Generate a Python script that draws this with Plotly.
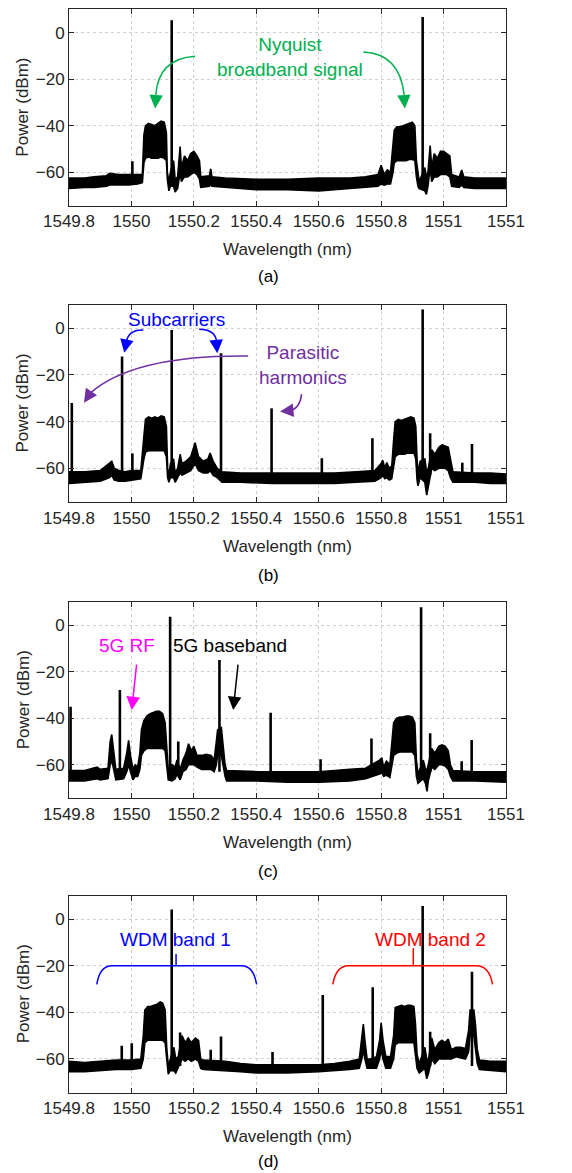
import plotly.graph_objects as go

# ---------------- data ----------------
TICK_VALS = [1549.8, 1550.0, 1550.2, 1550.4, 1550.6, 1550.8, 1551.0, 1551.2]
TICK_TEXT = ["1549.8", "1550", "1550.2", "1550.4", "1550.6", "1550.8", "1551", "1551"]
Y_TICKS = [-60, -40, -20, 0]
X_RANGE = [1549.8, 1551.2]
Y_RANGE = [-74.5, 10]
SPIKE_BASE = -63

# spectrum envelopes: (wavelength nm, upper dBm, lower dBm)
A_ENVELOPE = [
    (1549.800, -62.5, -67), (1549.850, -62.5, -66.5), (1549.880, -62, -66.5),
    (1549.920, -61.5, -66), (1549.930, -60.5, -65.5), (1549.960, -61, -65.5),
    (1549.990, -61, -65.5), (1550.020, -61, -65), (1550.035, -61, -64.5),
    (1550.040, -44, -56), (1550.045, -40, -54), (1550.055, -39, -53.5),
    (1550.065, -39.5, -54), (1550.075, -40, -54), (1550.085, -39, -54),
    (1550.095, -38, -53.5), (1550.105, -38.5, -54), (1550.112, -43, -55),
    (1550.115, -60, -63), (1550.120, -64, -68), (1550.125, -60, -66),
    (1550.135, -55, -66), (1550.140, -63, -68.5), (1550.148, -62, -67),
    (1550.156, -49, -60), (1550.160, -58, -64), (1550.170, -53, -62),
    (1550.180, -55, -62), (1550.190, -52, -61), (1550.200, -51, -60),
    (1550.210, -53, -61), (1550.218, -55, -63), (1550.222, -62, -66.5),
    (1550.250, -61.5, -66), (1550.254, -58.5, -65), (1550.258, -62, -66),
    (1550.300, -62.5, -66.5), (1550.400, -63, -67.5), (1550.500, -63, -67.5),
    (1550.600, -62.5, -68), (1550.700, -62.5, -67), (1550.750, -62, -66.5),
    (1550.790, -61, -66), (1550.800, -57, -65), (1550.810, -61, -65.5),
    (1550.820, -59, -65), (1550.830, -60, -65), (1550.838, -50, -60),
    (1550.842, -42, -56), (1550.850, -40.5, -55), (1550.860, -40.5, -55),
    (1550.870, -40, -55), (1550.880, -39.5, -55), (1550.890, -39, -54.5),
    (1550.900, -38.5, -54.5), (1550.908, -40, -55), (1550.913, -55, -62),
    (1550.918, -60, -66), (1550.922, -64, -67), (1550.940, -58, -68),
    (1550.945, -62, -69.5), (1550.950, -60, -66), (1550.957, -48.5, -58),
    (1550.962, -58, -64), (1550.970, -52, -62), (1550.980, -54, -62),
    (1550.990, -51, -61), (1551.000, -51, -61), (1551.010, -52, -61),
    (1551.020, -53, -62), (1551.026, -61, -66), (1551.050, -62, -66.5),
    (1551.058, -59, -65.5), (1551.065, -62, -66.5), (1551.100, -62.5, -67),
    (1551.150, -62.5, -67), (1551.200, -62.5, -67),
]
A_SPIKE_WL = [1550.003, 1550.129, 1550.933]
A_SPIKE_DB = [-55.3, 5.3, 6.7]

B_ENVELOPE = [
    (1549.800, -61.5, -66.5), (1549.850, -61.5, -66), (1549.900, -61, -65.5),
    (1549.930, -58, -64), (1549.937, -57, -63), (1549.945, -60, -65),
    (1549.960, -61, -65.5), (1549.980, -61.5, -65.5), (1550.000, -61, -65),
    (1550.030, -61, -64.5), (1550.040, -45, -56), (1550.045, -39, -53),
    (1550.055, -38, -52.5), (1550.065, -38.5, -52.5), (1550.075, -38, -52.5),
    (1550.085, -38.5, -52.5), (1550.095, -37.5, -52.5), (1550.105, -38, -52.5),
    (1550.112, -42, -55), (1550.116, -60, -64), (1550.120, -63, -66),
    (1550.125, -58, -64), (1550.135, -56, -64), (1550.140, -62, -66),
    (1550.148, -60, -64), (1550.156, -54, -62), (1550.162, -58, -63),
    (1550.175, -57, -62), (1550.190, -55, -61), (1550.204, -49, -58),
    (1550.215, -55, -61), (1550.230, -57, -62), (1550.245, -56, -62),
    (1550.252, -53.5, -61), (1550.262, -57, -63), (1550.275, -60, -64),
    (1550.290, -61.5, -66), (1550.350, -62, -66), (1550.450, -62, -66.5),
    (1550.550, -62, -66.5), (1550.650, -62, -66.5), (1550.720, -61.5, -66),
    (1550.780, -61, -65.5), (1550.800, -58, -64), (1550.805, -56.5, -63),
    (1550.812, -60, -64.5), (1550.818, -57.5, -64), (1550.826, -60, -65),
    (1550.834, -59, -64.5), (1550.840, -48, -60), (1550.845, -40, -55),
    (1550.855, -39, -54), (1550.865, -39.5, -54), (1550.875, -39, -54),
    (1550.885, -38.5, -53.5), (1550.895, -38, -53.5), (1550.905, -38.5, -53.5),
    (1550.911, -42, -56), (1550.915, -56, -65), (1550.918, -62, -67.5),
    (1550.925, -57, -64), (1550.940, -56, -66), (1550.946, -62, -71.5),
    (1550.951, -60, -68), (1550.962, -52, -60), (1550.972, -54, -61),
    (1550.985, -51, -60), (1550.995, -50, -60), (1551.005, -50.5, -60),
    (1551.015, -51, -61), (1551.022, -56, -64), (1551.030, -61.5, -66),
    (1551.100, -62, -66), (1551.150, -62, -66.5), (1551.200, -62.5, -66.5),
]
B_SPIKE_WL = [1549.809, 1549.970, 1550.003, 1550.129, 1550.287, 1550.449,
              1550.610, 1550.772, 1550.933, 1550.957, 1551.060, 1551.091]
B_SPIKE_DB = [-32.0, -12.1, -53.6, -0.7, -10.7, -34.3,
              -55.7, -47.1, 8.1, -45.0, -57.6, -49.6]

C_ENVELOPE = [
    (1549.800, -62.5, -67), (1549.850, -62.5, -67), (1549.890, -61, -66),
    (1549.900, -62, -66.5), (1549.925, -61.5, -66), (1549.932, -50, -60),
    (1549.937, -47, -58), (1549.942, -52, -62), (1549.950, -62, -66.5),
    (1549.975, -61.5, -66), (1549.985, -55, -63), (1549.991, -49.5, -60),
    (1549.997, -56, -63), (1550.005, -62, -66.5), (1550.012, -60, -65),
    (1550.020, -61, -65), (1550.027, -55, -62), (1550.032, -45, -56),
    (1550.040, -41, -54), (1550.050, -39, -53), (1550.060, -38, -53),
    (1550.070, -37.5, -53), (1550.080, -37, -53), (1550.090, -37, -53),
    (1550.100, -38, -53), (1550.108, -42, -54), (1550.113, -55, -60),
    (1550.118, -62, -66.5), (1550.130, -60, -67), (1550.140, -61, -66),
    (1550.146, -58, -64), (1550.156, -62, -66.5), (1550.165, -58, -63),
    (1550.175, -55, -62), (1550.183, -51, -60), (1550.192, -54, -60),
    (1550.200, -52, -60), (1550.210, -56, -61), (1550.225, -56, -62),
    (1550.240, -55.5, -62), (1550.255, -56, -62), (1550.265, -58, -63),
    (1550.272, -50, -60), (1550.276, -45, -56), (1550.288, -44, -56),
    (1550.293, -50, -60), (1550.300, -60, -65), (1550.305, -62.5, -67),
    (1550.400, -63, -67), (1550.500, -63, -67.5), (1550.600, -63, -67.5),
    (1550.700, -62, -67), (1550.750, -61.5, -66), (1550.795, -58, -64),
    (1550.802, -57, -63.5), (1550.808, -61, -65), (1550.817, -58.5, -64.5),
    (1550.828, -60, -65.5), (1550.835, -50, -60), (1550.840, -42, -56),
    (1550.850, -40, -55), (1550.860, -39.5, -54.5), (1550.870, -39.5, -54.5),
    (1550.880, -39, -54.5), (1550.890, -39, -54.5), (1550.900, -39.5, -54.5),
    (1550.908, -42, -56), (1550.913, -58, -65), (1550.918, -64, -68),
    (1550.935, -58, -66), (1550.942, -62, -68), (1550.947, -62, -71.5),
    (1550.951, -60, -67), (1550.962, -53, -61), (1550.972, -55, -62),
    (1550.985, -52, -60), (1550.995, -51.5, -60), (1551.005, -52, -60.5),
    (1551.015, -54, -62), (1551.022, -60, -65), (1551.030, -62.5, -67),
    (1551.100, -63, -67), (1551.200, -63, -67.5),
]
C_SPIKE_WL = [1549.805, 1549.963, 1550.124, 1550.150, 1550.282, 1550.446,
              1550.606, 1550.769, 1550.928, 1550.957, 1551.058, 1551.090]
C_SPIKE_DB = [-35.0, -27.8, 3.7, -50.0, -14.9, -37.6,
              -57.7, -48.7, 7.8, -46.5, -58.5, -49.4]

D_ENVELOPE = [
    (1549.800, -61, -65.5), (1549.850, -61.5, -65.5), (1549.900, -61, -65),
    (1549.950, -60.5, -64.5), (1550.000, -60.5, -64.5), (1550.030, -60, -64),
    (1550.038, -50, -60), (1550.043, -39, -53), (1550.052, -37.5, -52),
    (1550.062, -37.5, -52), (1550.072, -37, -52), (1550.082, -36.5, -52),
    (1550.092, -35.5, -52), (1550.100, -36, -52), (1550.108, -39, -53),
    (1550.113, -55, -61), (1550.118, -63, -66.5), (1550.124, -60, -65),
    (1550.136, -55, -65), (1550.142, -60, -66), (1550.150, -59, -64),
    (1550.162, -50, -60), (1550.172, -53, -61), (1550.182, -51, -60),
    (1550.192, -53, -61), (1550.205, -51, -60), (1550.215, -52, -61),
    (1550.222, -60, -64), (1550.230, -60.5, -64.5), (1550.300, -61, -65),
    (1550.350, -62, -65.5), (1550.400, -62.5, -66), (1550.500, -62.5, -66),
    (1550.600, -62.5, -65.5), (1550.650, -62, -65), (1550.700, -61, -64.5),
    (1550.730, -60, -64), (1550.738, -52, -60), (1550.743, -45, -56),
    (1550.748, -52, -60), (1550.755, -60, -64), (1550.765, -60, -64),
    (1550.785, -59, -64), (1550.795, -52, -60), (1550.800, -44.5, -56),
    (1550.806, -52, -60), (1550.815, -59, -64), (1550.830, -59, -64),
    (1550.840, -50, -60), (1550.845, -38, -54), (1550.855, -37.5, -53),
    (1550.865, -37, -53), (1550.875, -37.5, -53), (1550.885, -37, -53),
    (1550.895, -37, -53), (1550.905, -37.5, -53), (1550.910, -45, -57),
    (1550.915, -58, -64), (1550.922, -62, -66), (1550.940, -55, -64),
    (1550.946, -60, -68.5), (1550.952, -60, -66), (1550.962, -51, -60),
    (1550.972, -56, -62), (1550.985, -53, -60), (1550.995, -52, -60),
    (1551.005, -53, -60), (1551.015, -51.5, -60), (1551.025, -56, -60),
    (1551.040, -55, -59), (1551.055, -55, -59.5), (1551.070, -55.5, -60),
    (1551.080, -48, -57), (1551.085, -39, -50), (1551.097, -39, -50),
    (1551.102, -45, -56), (1551.108, -56, -62), (1551.115, -60.5, -64.5),
    (1551.150, -61, -65), (1551.200, -61, -65.5),
]
D_SPIKE_WL = [1549.969, 1550.001, 1550.129, 1550.156, 1550.254, 1550.287,
              1550.452, 1550.613, 1550.773, 1550.933, 1550.957, 1551.091]
D_SPIKE_DB = [-54.3, -53.3, 4.1, -48.7, -56.0, -50.4,
              -57.0, -32.6, -29.3, 5.6, -48.3, -22.6]

PANELS = [
    ("(a)", A_ENVELOPE, A_SPIKE_WL, A_SPIKE_DB),
    ("(b)", B_ENVELOPE, B_SPIKE_WL, B_SPIKE_DB),
    ("(c)", C_ENVELOPE, C_SPIKE_WL, C_SPIKE_DB),
    ("(d)", D_ENVELOPE, D_SPIKE_WL, D_SPIKE_DB),
]

# ---------------- layout geometry (pixels) ----------------
W, H = 572, 1173
X_L, X_R = 69, 506
PANEL_PX = [(9.3, 206.0), (305.0, 502.1), (602.1, 798.4), (895.7, 1092.8)]
LABEL_Y_PX = [276.7, 575.0, 871.0, 1161.7]
XTITLE_Y_PX = [249.0, 546.7, 842.0, 1136.7]
LABEL_X_PX = 268
XTITLE_X_PX = 287
YTITLE_X_PX = 23

FONT = "Liberation Sans, Arial, sans-serif"
TXT = "#262626"

GREEN = "#00B050"
BLUE = "#0000FF"
PURPLE = "#7030A0"
MAGENTA = "#FF00FF"
RED = "#FF0000"

fig = go.Figure()
layout = dict(
    width=W, height=H, margin=dict(l=0, r=0, t=0, b=0, autoexpand=False),
    paper_bgcolor="white", plot_bgcolor="white", showlegend=False,
    font=dict(family=FONT, color=TXT, size=17),
)
annotations = []
shapes = []

for i, (lab, env, swl, sdb) in enumerate(PANELS):
    n = i + 1
    xa = "x" if n == 1 else f"x{n}"
    ya = "y" if n == 1 else f"y{n}"
    wl = [r[0] for r in env]
    up = [r[1] for r in env]
    lo = [r[2] for r in env]
    fig.add_trace(go.Scatter(
        x=wl + wl[::-1], y=up + lo[::-1], mode="lines", fill="toself",
        fillcolor="black", line=dict(color="black", width=1.6),
        xaxis=xa, yaxis=ya, hoverinfo="skip"))
    sx, sy = [], []
    for w, p in zip(swl, sdb):
        sx += [w, w, None]
        sy += [SPIKE_BASE, p, None]
    fig.add_trace(go.Scatter(
        x=sx, y=sy, mode="lines", line=dict(color="black", width=2.6),
        xaxis=xa, yaxis=ya, hoverinfo="skip"))
    top, bot = PANEL_PX[i]
    xkey = "xaxis" if n == 1 else f"xaxis{n}"
    ykey = "yaxis" if n == 1 else f"yaxis{n}"
    layout[xkey] = dict(
        domain=[X_L / W, X_R / W], range=X_RANGE, anchor=ya, automargin=False,
        tickmode="array", tickvals=TICK_VALS, ticktext=TICK_TEXT,
        ticks="inside", ticklen=5, tickcolor=TXT, showline=True,
        linecolor=TXT, linewidth=1, mirror="ticks", showgrid=True,
        gridcolor="#D0D0D0", griddash="dot", gridwidth=1, zeroline=False,
        tickfont=dict(size=17, color=TXT),
    )
    layout[ykey] = dict(
        domain=[1 - bot / H, 1 - top / H], range=Y_RANGE, anchor=xa, automargin=False,
        tickmode="array", tickvals=Y_TICKS, ticks="inside", ticklen=5,
        tickcolor=TXT, showline=True, linecolor=TXT, linewidth=1,
        mirror="ticks", showgrid=True, gridcolor="#D0D0D0", griddash="dot",
        gridwidth=1, zeroline=False, tickfont=dict(size=17, color=TXT),
    )
    annotations.append(dict(
        text=lab, x=LABEL_X_PX / W, y=1 - LABEL_Y_PX[i] / H, xref="paper",
        yref="paper", showarrow=False, font=dict(size=17, color="black"),
        xanchor="center", yanchor="middle"))
    annotations.append(dict(
        text="Wavelength (nm)", x=XTITLE_X_PX / W, y=1 - XTITLE_Y_PX[i] / H,
        xref="paper", yref="paper", showarrow=False,
        font=dict(size=17, color=TXT), xanchor="center", yanchor="middle"))
    annotations.append(dict(
        text="Power (dBm)", x=YTITLE_X_PX / W, y=1 - (top + bot) / 2 / H,
        xref="paper", yref="paper", showarrow=False, textangle=-90,
        font=dict(size=17, color=TXT), xanchor="center", yanchor="middle"))


def txt(text, x, y, xa, ya, color):
    annotations.append(dict(text=text, x=x, y=y, xref=xa, yref=ya,
                            showarrow=False, font=dict(size=19, color=color),
                            xanchor="center", yanchor="middle"))


def head(x, y, ax, ay, xa, ya, color):
    annotations.append(dict(text="", x=x, y=y, xref=xa, yref=ya, ax=ax, ay=ay,
                            axref="pixel", ayref="pixel", showarrow=True,
                            arrowhead=2, arrowsize=1.8, arrowwidth=1.5,
                            arrowcolor=color, standoff=0, startstandoff=0))


def curve(p0, c, p1, xa, ya, color, width=1.5):
    shapes.append(dict(type="path", xref=xa, yref=ya,
                       path=f"M {p0[0]},{p0[1]} Q {c[0]},{c[1]} {p1[0]},{p1[1]}",
                       line=dict(color=color, width=width)))


# panel (a)
txt("Nyquist<br>broadband signal", 1550.508, -10.4, "x", "y", GREEN)
curve((1550.204, -10.2), (1550.086, -11.2), (1550.078, -26.9), "x", "y", GREEN)
head(1550.076, -32.6, 1, -13, "x", "y", GREEN)
curve((1550.743, -8.3), (1550.860, -9.0), (1550.874, -26.9), "x", "y", GREEN)
head(1550.876, -32.6, -1, -13, "x", "y", GREEN)

# panel (b)
txt("Subcarriers", 1550.145, 3.9, "x2", "y2", BLUE)
curve((1550.038, -0.7), (1549.990, -0.4), (1549.983, -6.2), "x2", "y2", BLUE)
head(1549.977, -10.5, 2, -10, "x2", "y2", BLUE)
curve((1550.217, -0.4), (1550.268, -0.4), (1550.273, -5.7), "x2", "y2", BLUE)
head(1550.275, -10.7, -1, -12, "x2", "y2", BLUE)
txt("Parasitic<br>harmonics", 1550.551, -15.8, "x2", "y2", PURPLE)
curve((1550.374, -11.9), (1550.006, -11.4), (1549.867, -27.9), "x2", "y2", PURPLE)
head(1549.848, -31.9, 6, -9, "x2", "y2", PURPLE)
curve((1550.545, -28.2), (1550.540, -34.3), (1550.508, -35.3), "x2", "y2", PURPLE)
head(1550.476, -35.7, 10, -1, "x2", "y2", PURPLE)

# panel (c)
txt("5G RF", 1549.985, -8.5, "x3", "y3", MAGENTA)
head(1550.001, -36.5, 5, -47, "x3", "y3", MAGENTA)
txt("5G baseband", 1550.316, -8.5, "x3", "y3", "black")
head(1550.326, -36.5, 5, -47, "x3", "y3", "black")

# panel (d)
txt("WDM band 1", 1550.142, -8.7, "x4", "y4", BLUE)
shapes.append(dict(type="path", xref="x4", yref="y4",
                   path="M 1549.889,-28 Q 1549.899,-20 1549.937,-20 L 1550.353,-20 "
                        "Q 1550.391,-20 1550.401,-28",
                   line=dict(color=BLUE, width=1.5)))
shapes.append(dict(type="line", xref="x4", yref="y4", x0=1550.143, x1=1550.143,
                   y0=-20, y1=-15, line=dict(color=BLUE, width=1.5)))
txt("WDM band 2", 1550.957, -8.7, "x4", "y4", RED)
shapes.append(dict(type="path", xref="x4", yref="y4",
                   path="M 1550.645,-28 Q 1550.656,-20 1550.695,-20 L 1551.106,-20 "
                        "Q 1551.146,-20 1551.157,-28",
                   line=dict(color=RED, width=1.5)))
shapes.append(dict(type="line", xref="x4", yref="y4", x0=1550.903, x1=1550.903,
                   y0=-20, y1=-12.5, line=dict(color=RED, width=1.5)))

layout["annotations"] = annotations
layout["shapes"] = shapes
fig.update_layout(**layout)
fig.write_html("out.html", config={"displayModeBar": False},
               post_script="document.body.style.margin='0';document.body.style.overflow='hidden';")
